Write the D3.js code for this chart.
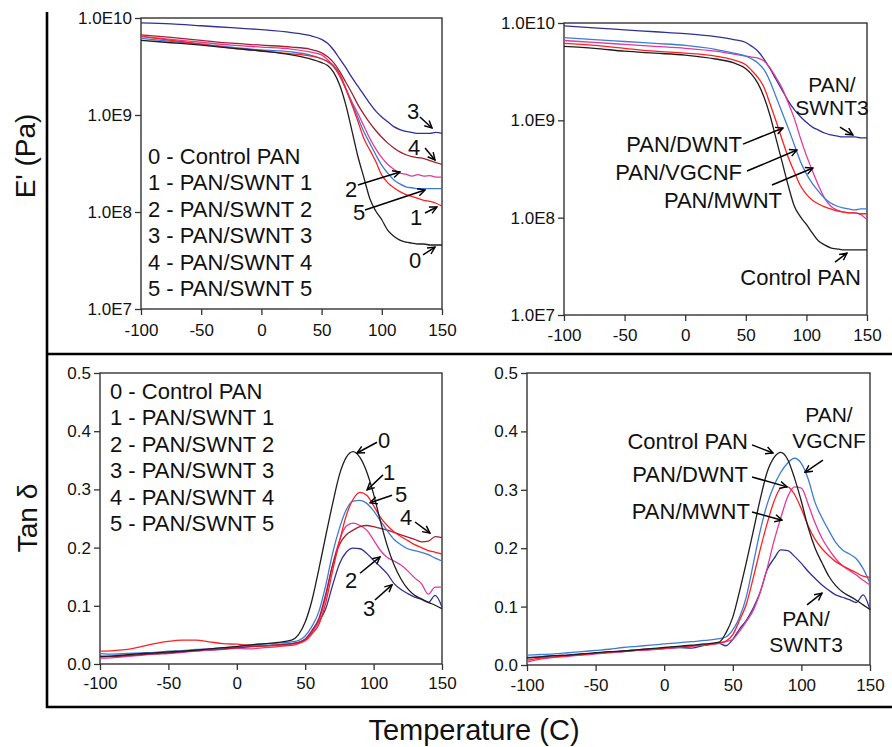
<!DOCTYPE html>
<html>
<head>
<meta charset="utf-8">
<script src="https://cdn.jsdelivr.net/npm/d3@7"></script>
<style>
  body { margin: 0; background: #fff; }
  svg { display: block; }
</style>
</head>
<body>
<svg id="fig" width="892" height="747"></svg>
<script>
// ---------- data ----------
// temperature grids (°C)
const tempMod = [-100,-75,-50,-25,0,25,40,50,55,60,65,70,75,80,85,90,95,100,105,110,115,120,125,130,135,140,145,150];
const tempTan = [-100,-90,-80,-70,-60,-50,-40,-30,-20,-10,0,10,20,30,40,45,50,55,60,65,70,75,80,85,90,95,100,105,110,115,120,125,130,135,140,145,150];

// storage modulus, log10(E' / Pa) — SWNT loading series
const lgE_control = [9.77,9.745,9.72,9.69,9.66,9.62,9.58,9.54,9.51,9.44,9.31,9.11,8.85,8.58,8.36,8.14,8.01,7.92,7.81,7.75,7.71,7.69,7.68,7.67,7.67,7.66,7.66,7.66];
const lgE_swnt1   = [9.81,9.77,9.73,9.69,9.66,9.63,9.61,9.58,9.55,9.50,9.42,9.27,9.11,8.94,8.76,8.64,8.52,8.38,8.30,8.25,8.21,8.18,8.16,8.14,8.12,8.11,8.09,8.06];
const lgE_swnt2   = [9.81,9.78,9.75,9.72,9.70,9.68,9.65,9.62,9.57,9.50,9.40,9.27,9.14,9.02,8.89,8.76,8.65,8.56,8.49,8.44,8.40,8.39,8.37,8.385,8.37,8.375,8.36,8.36];
const lgE_swnt3   = [9.95,9.94,9.92,9.90,9.88,9.85,9.82,9.78,9.74,9.67,9.58,9.49,9.39,9.30,9.21,9.12,9.04,8.98,8.93,8.88,8.85,8.83,8.82,8.81,8.81,8.81,8.82,8.81];
const lgE_swnt4   = [9.825,9.80,9.77,9.74,9.72,9.70,9.68,9.64,9.60,9.54,9.45,9.34,9.23,9.11,9.01,8.92,8.84,8.77,8.71,8.66,8.62,8.59,8.57,8.56,8.55,8.53,8.51,8.49];
const lgE_swnt5   = [9.79,9.76,9.73,9.70,9.67,9.65,9.62,9.58,9.55,9.51,9.42,9.28,9.13,8.98,8.83,8.71,8.59,8.48,8.40,8.33,8.29,8.26,8.25,8.24,8.24,8.24,8.24,8.24];

// storage modulus, log10(E' / Pa) — nanocarbon type series
const lgE_ctrlB   = [9.76,9.74,9.71,9.69,9.67,9.63,9.59,9.53,9.47,9.38,9.24,9.05,8.81,8.57,8.33,8.12,8.01,7.93,7.84,7.76,7.72,7.69,7.68,7.67,7.67,7.67,7.67,7.67];
const lgE_dwnt    = [9.79,9.77,9.74,9.71,9.69,9.66,9.62,9.57,9.51,9.44,9.34,9.17,8.99,8.80,8.62,8.47,8.33,8.24,8.18,8.14,8.11,8.09,8.07,8.06,8.05,8.05,8.04,8.04];
const lgE_vgcnf   = [9.85,9.83,9.81,9.79,9.77,9.73,9.69,9.66,9.63,9.59,9.52,9.40,9.24,9.08,8.92,8.75,8.58,8.45,8.35,8.27,8.20,8.15,8.12,8.10,8.09,8.08,8.09,8.09];
const lgE_mwnt    = [9.82,9.80,9.78,9.76,9.74,9.71,9.68,9.66,9.65,9.64,9.61,9.54,9.44,9.33,9.18,9.02,8.82,8.64,8.48,8.33,8.20,8.12,8.08,8.06,8.05,8.05,8.03,7.98];
const lgE_swnt3B  = [9.97,9.95,9.93,9.91,9.89,9.86,9.83,9.80,9.76,9.71,9.63,9.53,9.42,9.31,9.20,9.11,9.04,8.98,8.93,8.90,8.87,8.85,8.84,8.83,8.83,8.83,8.82,8.82];

// tan delta — SWNT loading series
const tan_control = [0.013,0.014,0.016,0.018,0.019,0.021,0.022,0.024,0.026,0.028,0.030,0.033,0.035,0.037,0.041,0.050,0.072,0.110,0.163,0.220,0.275,0.325,0.355,0.365,0.355,0.330,0.292,0.245,0.203,0.170,0.146,0.129,0.118,0.112,0.106,0.101,0.095];
const tan_swnt1   = [0.022,0.023,0.025,0.030,0.035,0.039,0.041,0.041,0.038,0.035,0.034,0.032,0.031,0.031,0.032,0.035,0.040,0.052,0.068,0.105,0.160,0.210,0.255,0.283,0.295,0.290,0.272,0.252,0.238,0.227,0.219,0.212,0.205,0.200,0.195,0.192,0.189];
const tan_swnt2   = [0.010,0.011,0.013,0.015,0.017,0.018,0.020,0.022,0.024,0.025,0.027,0.026,0.028,0.030,0.034,0.036,0.042,0.055,0.074,0.115,0.170,0.212,0.237,0.242,0.238,0.230,0.213,0.195,0.183,0.177,0.170,0.160,0.148,0.138,0.120,0.132,0.132];
const tan_swnt3   = [0.012,0.013,0.014,0.016,0.018,0.019,0.021,0.023,0.024,0.026,0.028,0.030,0.031,0.033,0.035,0.037,0.042,0.055,0.073,0.095,0.135,0.172,0.192,0.199,0.198,0.190,0.178,0.167,0.155,0.138,0.128,0.121,0.115,0.111,0.106,0.118,0.098];
const tan_swnt4   = [0.013,0.013,0.015,0.016,0.018,0.019,0.021,0.023,0.025,0.026,0.028,0.030,0.031,0.033,0.035,0.037,0.043,0.058,0.078,0.120,0.170,0.205,0.222,0.230,0.236,0.238,0.236,0.233,0.230,0.226,0.222,0.218,0.214,0.210,0.211,0.219,0.217];
const tan_swnt5   = [0.018,0.017,0.018,0.019,0.020,0.022,0.023,0.025,0.026,0.028,0.030,0.032,0.034,0.036,0.038,0.040,0.048,0.065,0.090,0.135,0.190,0.233,0.265,0.280,0.281,0.276,0.263,0.246,0.229,0.214,0.205,0.198,0.195,0.192,0.188,0.182,0.177];

// tan delta — nanocarbon type series
const tan_ctrlB   = [0.012,0.014,0.016,0.017,0.019,0.021,0.023,0.024,0.026,0.028,0.030,0.032,0.034,0.036,0.039,0.055,0.082,0.127,0.177,0.230,0.284,0.330,0.355,0.364,0.352,0.320,0.280,0.235,0.200,0.175,0.152,0.136,0.125,0.118,0.111,0.103,0.095];
const tan_vgcnf   = [0.017,0.018,0.019,0.021,0.023,0.025,0.027,0.030,0.032,0.034,0.036,0.038,0.040,0.042,0.045,0.048,0.060,0.082,0.118,0.174,0.230,0.275,0.307,0.330,0.346,0.354,0.345,0.318,0.278,0.252,0.230,0.210,0.197,0.190,0.182,0.165,0.140];
const tan_dwnt    = [0.008,0.012,0.014,0.016,0.018,0.020,0.022,0.024,0.026,0.027,0.029,0.031,0.033,0.035,0.038,0.041,0.052,0.077,0.105,0.150,0.198,0.242,0.280,0.303,0.305,0.292,0.267,0.238,0.215,0.199,0.187,0.177,0.170,0.164,0.158,0.152,0.150];
const tan_mwnt    = [0.005,0.010,0.013,0.015,0.017,0.019,0.021,0.023,0.025,0.026,0.028,0.030,0.032,0.034,0.037,0.040,0.044,0.058,0.075,0.094,0.125,0.165,0.212,0.252,0.288,0.305,0.303,0.275,0.243,0.217,0.198,0.182,0.170,0.162,0.154,0.145,0.137];
const tan_swnt3B  = [0.013,0.014,0.016,0.017,0.019,0.020,0.022,0.023,0.025,0.027,0.028,0.030,0.029,0.034,0.037,0.033,0.044,0.062,0.077,0.098,0.125,0.163,0.182,0.197,0.196,0.186,0.174,0.160,0.148,0.137,0.128,0.120,0.116,0.112,0.107,0.120,0.094];

// axis ticks and labels
const tempTicks = [-100,-50,0,50,100,150];
const modTicks = [1e7,1e8,1e9,1e10];
const tanTicks = [0,0.1,0.2,0.3,0.4,0.5];
const legendLabels = ['0 - Control PAN','1 - PAN/SWNT 1','2 - PAN/SWNT 2','3 - PAN/SWNT 3','4 - PAN/SWNT 4','5 - PAN/SWNT 5'];

// ---------- drawing ----------
const FONT = 'Arial, "Liberation Sans", Helvetica, sans-serif';
const C = { black:'#1e1e1e', red:'#ff2020', magenta:'#e2389c', navy:'#30309a', maroon:'#a3202c', blue:'#3d7bd6' };

const svg = d3.select('#fig');
const defs = svg.append('defs');
defs.append('marker')
  .attr('id', 'head').attr('viewBox', '0 0 10 10')
  .attr('refX', 9).attr('refY', 5)
  .attr('markerWidth', 9).attr('markerHeight', 9)
  .attr('markerUnits', 'userSpaceOnUse').attr('orient', 'auto')
  .append('path').attr('d', 'M1,1 L9,5 L1,9')
  .attr('fill', 'none').attr('stroke', '#000').attr('stroke-width', 1.6);

// outer frame rules
const rule = (x1, y1, x2, y2) => svg.append('line')
  .attr('x1', x1).attr('y1', y1).attr('x2', x2).attr('y2', y2)
  .attr('stroke', '#000').attr('stroke-width', 2.6);
rule(47, 12, 47, 708);
rule(47, 354, 892, 354);
rule(46, 707, 892, 707);

function makePanel(box, yScale, yTicks, yFmt, xPad) {
  const x = d3.scaleLinear().domain([-100, 150]).range([box.l, box.r]);
  const y = yScale.range([box.b, box.t]);
  const g = svg.append('g');

  const ax = g.append('g').attr('transform', `translate(0,${box.b})`)
    .call(d3.axisBottom(x).tickValues(tempTicks).tickSize(6).tickPadding(xPad).tickFormat(d3.format('d')));
  const ay = g.append('g').attr('transform', `translate(${box.l},0)`)
    .call(d3.axisLeft(y).tickValues(yTicks).tickSize(6).tickPadding(3).tickFormat(yFmt));
  [ax, ay].forEach(a => {
    a.select('.domain').remove();
    a.selectAll('line').attr('stroke', '#333').attr('stroke-width', 1.3);
    a.selectAll('text').attr('font-family', FONT).attr('font-size', 17).attr('fill', '#111');
  });
  ax.selectAll('text').text(d => d < 0 ? '-' + Math.abs(d) : d);

  g.append('rect').attr('x', box.l).attr('y', box.t)
    .attr('width', box.r - box.l).attr('height', box.b - box.t)
    .attr('fill', 'none').attr('stroke', '#333').attr('stroke-width', 1.4);

  const plot = g.append('g');
  return { x, y, g, plot };
}

function drawSeries(p, temps, vals, color, toValue) {
  const pts = temps.map((t, i) => [t, toValue(vals[i])]);
  p.plot.append('path').datum(pts)
    .attr('fill', 'none').attr('stroke', color).attr('stroke-width', 1.3)
    .attr('stroke-linejoin', 'round')
    .attr('d', d3.line().x(d => p.x(d[0])).y(d => p.y(d[1])).curve(d3.curveMonotoneX));
}

function drawNotes(p, notes, toValue) {
  notes.forEach(n => {
    n.lines.forEach(([s, tx, ty]) => {
      p.g.append('text').attr('x', p.x(tx)).attr('y', p.y(toValue(ty)))
        .attr('text-anchor', n.anchor).attr('font-family', FONT).attr('font-size', n.size || 22)
        .attr('fill', '#111').text(s);
    });
    const [x1, y1, x2, y2] = n.arrow;
    p.g.append('line')
      .attr('x1', p.x(x1)).attr('y1', p.y(toValue(y1)))
      .attr('x2', p.x(x2)).attr('y2', p.y(toValue(y2)))
      .attr('stroke', '#000').attr('stroke-width', 1.5).attr('marker-end', 'url(#head)');
  });
}

function drawLegend(p, x0, y0) {
  legendLabels.forEach((s, i) => {
    p.g.append('text').attr('x', x0).attr('y', y0 + i * 26.4)
      .attr('font-family', FONT).attr('font-size', 22).attr('fill', '#111').text(s);
  });
}

const pow10 = v => Math.pow(10, v);
const ident = v => v;
const modFmt = d => '1.0E' + Math.round(Math.log10(d));
const tanFmt = d3.format('.1f');

// top left: storage modulus, SWNT loadings
const pTL = makePanel({ l: 141, r: 442, t: 18, b: 309 }, d3.scaleLog().domain([1e7, 1e10]), modTicks, modFmt, 9);
drawSeries(pTL, tempMod, lgE_swnt3, C.navy, pow10);
drawSeries(pTL, tempMod, lgE_swnt4, C.maroon, pow10);
drawSeries(pTL, tempMod, lgE_swnt2, C.magenta, pow10);
drawSeries(pTL, tempMod, lgE_swnt5, C.blue, pow10);
drawSeries(pTL, tempMod, lgE_swnt1, C.red, pow10);
drawSeries(pTL, tempMod, lgE_control, C.black, pow10);
drawLegend(pTL, 148, 164);
drawNotes(pTL, [
  { anchor: 'start', lines: [['3', 120.9, 8.959]], arrow: [131.7, 8.979, 141.7, 8.866] },
  { anchor: 'start', lines: [['4', 121.8, 8.588]], arrow: [135.9, 8.660, 144.2, 8.536] },
  { anchor: 'start', lines: [['2', 69.4, 8.155]], arrow: [80.2, 8.278, 115.1, 8.412] },
  { anchor: 'start', lines: [['5', 76.1, 7.918]], arrow: [86.0, 8.021, 135.9, 8.227] },
  { anchor: 'start', lines: [['1', 123.4, 7.866]], arrow: [135.9, 7.990, 145.8, 8.052] },
  { anchor: 'start', lines: [['0', 122.6, 7.423]], arrow: [134.2, 7.557, 144.2, 7.639] }
], pow10);

// top right: storage modulus, nanocarbon types
const pTR = makePanel({ l: 564, r: 867, t: 23, b: 315 }, d3.scaleLog().domain([1e7, 1e10]), modTicks, modFmt, 8);
drawSeries(pTR, tempMod, lgE_swnt3B, C.navy, pow10);
drawSeries(pTR, tempMod, lgE_mwnt, C.magenta, pow10);
drawSeries(pTR, tempMod, lgE_vgcnf, C.blue, pow10);
drawSeries(pTR, tempMod, lgE_dwnt, C.red, pow10);
drawSeries(pTR, tempMod, lgE_ctrlB, C.black, pow10);
drawNotes(pTR, [
  { anchor: 'middle', size: 21, lines: [['PAN/', 121.1, 9.290], ['SWNT3', 121.1, 9.054]], arrow: [127.7, 8.931, 138.4, 8.849] },
  { anchor: 'end', lines: [['PAN/DWNT', 46.9, 8.674]], arrow: [47.7, 8.756, 80.7, 8.921] },
  { anchor: 'end', lines: [['PAN/VGCNF', 46.9, 8.386]], arrow: [51.0, 8.479, 92.2, 8.695] },
  { anchor: 'end', lines: [['PAN/MWNT', 79.9, 8.099]], arrow: [71.6, 8.335, 105.4, 8.510] },
  { anchor: 'end', lines: [['Control PAN', 145.0, 7.307]], arrow: [123.6, 7.544, 133.5, 7.636] }
], pow10);

// bottom left: tan delta, SWNT loadings
const pBL = makePanel({ l: 100, r: 442, t: 373, b: 664 }, d3.scaleLinear().domain([0, 0.5]), tanTicks, tanFmt, 7);
drawSeries(pBL, tempTan, tan_swnt3, C.navy, ident);
drawSeries(pBL, tempTan, tan_swnt2, C.magenta, ident);
drawSeries(pBL, tempTan, tan_swnt4, C.maroon, ident);
drawSeries(pBL, tempTan, tan_swnt5, C.blue, ident);
drawSeries(pBL, tempTan, tan_swnt1, C.red, ident);
drawSeries(pBL, tempTan, tan_control, C.black, ident);
drawLegend(pBL, 110, 399);
drawNotes(pBL, [
  { anchor: 'start', lines: [['0', 103.2, 0.371]], arrow: [102.5, 0.381, 87.9, 0.3625] },
  { anchor: 'start', lines: [['1', 106.9, 0.316]], arrow: [106.9, 0.325, 95.2, 0.299] },
  { anchor: 'start', lines: [['5', 115.6, 0.278]], arrow: [113.5, 0.290, 97.4, 0.277] },
  { anchor: 'start', lines: [['4', 119.3, 0.239]], arrow: [130.3, 0.244, 141.2, 0.225] },
  { anchor: 'start', lines: [['2', 79.1, 0.131]], arrow: [90.1, 0.156, 104.7, 0.184] },
  { anchor: 'start', lines: [['3', 92.3, 0.082]], arrow: [101.0, 0.110, 113.5, 0.136] }
], ident);

// bottom right: tan delta, nanocarbon types
const pBR = makePanel({ l: 527, r: 870, t: 373, b: 665 }, d3.scaleLinear().domain([0, 0.5]), tanTicks, tanFmt, 8);
drawSeries(pBR, tempTan, tan_swnt3B, C.navy, ident);
drawSeries(pBR, tempTan, tan_mwnt, C.magenta, ident);
drawSeries(pBR, tempTan, tan_vgcnf, C.blue, ident);
drawSeries(pBR, tempTan, tan_dwnt, C.red, ident);
drawSeries(pBR, tempTan, tan_ctrlB, C.black, ident);
drawNotes(pBR, [
  { anchor: 'end', lines: [['Control PAN', 61.1, 0.370]], arrow: [64.0, 0.377, 79.3, 0.363] },
  { anchor: 'middle', size: 21, lines: [['PAN/', 120.1, 0.416], ['VGCNF', 120.1, 0.372]], arrow: [115.7, 0.351, 102.6, 0.330] },
  { anchor: 'end', lines: [['PAN/DWNT', 61.1, 0.313]], arrow: [64.0, 0.322, 89.5, 0.305] },
  { anchor: 'end', lines: [['PAN/MWNT', 62.5, 0.250]], arrow: [64.0, 0.262, 85.9, 0.248] },
  { anchor: 'middle', size: 21, lines: [['PAN/', 103.4, 0.066], ['SWNT3', 103.4, 0.022]], arrow: [104.1, 0.103, 115.0, 0.123] }
], ident);

// axis titles
svg.append('text').attr('transform', 'translate(35,156) rotate(-90)')
  .attr('text-anchor', 'middle').attr('font-family', FONT).attr('font-size', 28).attr('fill', '#111')
  .text("E' (Pa)");
svg.append('text').attr('transform', 'translate(37,518) rotate(-90)')
  .attr('text-anchor', 'middle').attr('font-family', FONT).attr('font-size', 28).attr('fill', '#111')
  .text('Tan δ');
svg.append('text').attr('x', 474).attr('y', 740)
  .attr('text-anchor', 'middle').attr('font-family', FONT).attr('font-size', 29).attr('fill', '#111')
  .text('Temperature (C)');
</script>
</body>
</html>
